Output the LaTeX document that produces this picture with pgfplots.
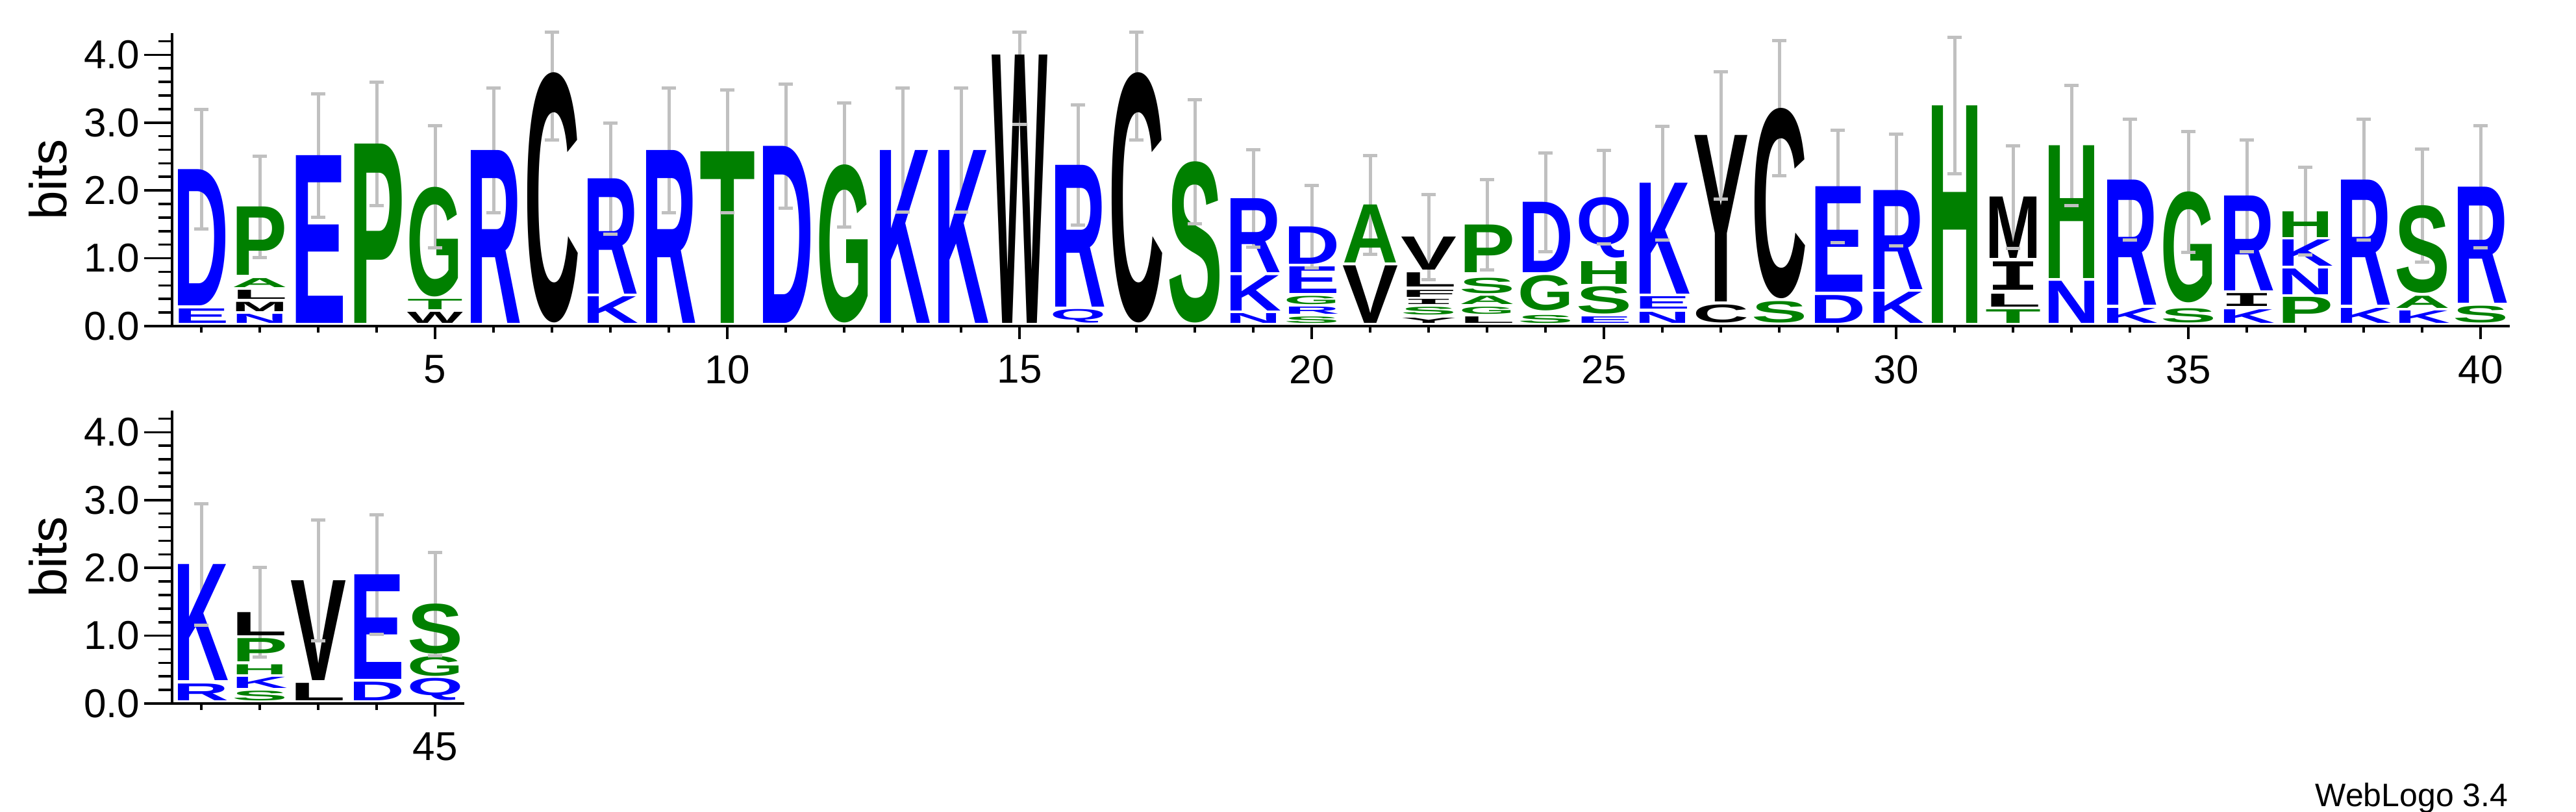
\documentclass[border=0pt]{standalone}
\usepackage{fontspec}
\setmainfont{Liberation Sans}
\newfontfamily\monofont{DejaVu Sans Mono}
\usepackage{pgfplots}
\pgfplotsset{compat=1.18}
\definecolor{lb}{RGB}{0,0,255}
\definecolor{lg}{RGB}{0,128,0}
\definecolor{lk}{RGB}{0,0,0}
\definecolor{eg}{RGB}{192,192,192}
\newlength\ybit \setlength\ybit{26.1pt}
\def\letterI{I}
\newcommand\logoletter[3]{%
  \edef\tmpL{#1}%
  \ifx\tmpL\letterI
    \textcolor{#3}{\resizebox*{21.5pt}{#2\ybit}{\monofont\bfseries I}}%
  \else
    \textcolor{#3}{\resizebox*{21.5pt}{#2\ybit}{\bfseries #1}}%
  \fi}
\pgfplotsset{
  logo/.style={
    x=22.5pt, y=26.1pt, ymin=0, ymax=4.32,
    clip=false,
    axis x line*=bottom, axis y line*=left,
    axis line style={line width=0.9pt, black},
    tick style={line width=0.9pt, black},
    tick align=outside,
    major tick length=10.75pt, minor tick length=5.25pt,
    xtick style={/pgfplots/major tick length=5pt, /pgfplots/minor tick length=2.5pt},
    /pgf/number format/assume math mode=true,
    ytick={0,1,2,3,4},
    minor ytick={0.2,0.4,0.6,0.8,1.2,1.4,1.6,1.8,2.2,2.4,2.6,2.8,3.2,3.4,3.6,3.8,4.2},
    yticklabel style={/pgf/number format/fixed, /pgf/number format/fixed zerofill, /pgf/number format/precision=1, font=\fontsize{15.5pt}{15.5pt}\selectfont, anchor=east, inner sep=0pt, xshift=-1.5pt},
    xticklabel style={font=\fontsize{15.5pt}{15.5pt}\selectfont, anchor=north, inner sep=0pt, yshift=-0.25pt},
    ylabel={bits},
  },
  letters/.style={
    only marks, mark=none, forget plot, point meta=y,
    visualization depends on={value \thisrow{h}\as\myH},
    visualization depends on={value \thisrow{L}\as\myL},
    visualization depends on={value \thisrow{c}\as\myC},
    nodes near coords={\logoletter{\myL}{\myH}{\myC}},
    every node near coord/.append style={anchor=south, inner sep=0pt, outer sep=0pt},
  },
  errs/.style={
    forget plot, eg, line width=1.25pt, unbounded coords=jump,
    mark=-, mark size=2.8pt, mark options={eg, line width=1.25pt, solid},
  },
}
\begin{document}
\begin{tikzpicture}
\useasboundingbox (0,0) rectangle (991.75pt,312.5pt);
\begin{axis}[logo, at={(66.25pt,187pt)}, anchor=south west,
  xmin=0.5, xmax=40.5,
  xtick={5,10,15,20,25,30,35,40},
  minor xtick={1,2,3,4,6,7,8,9,11,12,13,14,16,17,18,19,21,22,23,24,26,27,28,29,31,32,33,34,36,37,38,39},
  ylabel style={font=\fontsize{20pt}{20pt}\selectfont, at={(axis description cs:-0.0447,0.5)}, anchor=south, inner sep=0pt},
]
\addplot[letters] table[x=x, y=y] {
x y h L c
1 0.046 0.213 E lb
1 0.304 2.008 D lb
2 0.046 0.133 N lb
2 0.217 0.137 M lk
2 0.400 0.133 L lk
2 0.570 0.133 A lg
2 0.749 1.008 P lg
3 0.046 2.471 E lb
4 0.046 2.642 P lg
5 0.046 0.163 W lk
5 0.247 0.152 T lg
5 0.437 1.616 G lg
6 0.046 2.547 R lb
7 0.046 3.688 C lk
8 0.046 0.392 K lb
8 0.475 1.700 R lb
9 0.046 2.547 R lb
10 0.046 2.528 T lg
11 0.046 2.608 D lb
12 0.046 2.330 G lg
13 0.046 2.547 K lb
14 0.046 2.547 K lb
15 0.046 3.954 W lk
16 0.046 0.200 Q lb
16 0.285 2.090 R lb
17 0.046 3.688 C lk
18 0.046 2.376 S lg
19 0.046 0.144 N lb
19 0.228 0.521 K lb
19 0.791 1.091 R lb
20 0.046 0.095 S lg
20 0.179 0.106 R lb
20 0.323 0.122 G lg
20 0.483 0.392 E lb
20 0.913 0.551 D lb
21 0.046 0.848 V lk
21 0.932 0.855 A lg
22 0.046 0.076 Y lk
22 0.163 0.114 S lg
22 0.316 0.076 I lk
22 0.430 0.103 F lk
22 0.578 0.209 L lk
22 0.825 0.487 V lk
23 0.046 0.095 L lk
23 0.179 0.106 G lg
23 0.323 0.122 A lg
23 0.483 0.228 S lg
23 0.787 0.703 P lg
24 0.046 0.118 S lg
24 0.228 0.521 G lg
24 0.787 1.038 D lb
25 0.046 0.095 E lb
25 0.179 0.403 S lg
25 0.616 0.335 H lg
25 1.008 0.893 Q lb
26 0.046 0.163 N lb
26 0.255 0.182 E lb
26 0.475 1.635 K lb
27 0.046 0.266 C lk
27 0.361 2.453 Y lk
28 0.046 0.316 S lg
28 0.407 2.806 C lk
29 0.046 0.410 D lb
29 0.506 1.555 E lb
30 0.046 0.460 K lb
30 0.544 1.460 R lb
31 0.046 3.205 H lg
32 0.046 0.200 T lg
32 0.285 0.190 L lk
32 0.532 0.418 I lk
32 0.996 0.905 M lk
33 0.046 0.620 N lb
33 0.703 1.958 H lg
34 0.046 0.220 K lb
34 0.312 1.844 R lb
35 0.046 0.209 S lg
35 0.342 1.635 G lg
36 0.046 0.200 K lb
36 0.293 0.190 I lk
36 0.521 1.399 R lb
37 0.046 0.384 P lg
37 0.468 0.380 N lb
37 0.886 0.388 K lb
37 1.312 0.380 H lg
38 0.046 0.220 K lb
38 0.312 1.844 R lb
39 0.046 0.183 K lb
39 0.266 0.179 A lg
39 0.483 1.293 S lg
40 0.046 0.247 S lg
40 0.342 1.711 R lb
};
\addplot[errs] table[x=x, y=y] {
x y
1 1.428
1 3.196
1 nan
2 1.007
2 2.507
2 nan
3 1.607
3 3.427
3 nan
4 1.778
4 3.598
4 nan
5 1.150
5 2.956
5 nan
6 1.676
6 3.510
6 nan
7 2.744
7 4.335
7 nan
8 1.355
8 2.995
8 nan
9 1.676
9 3.510
9 nan
10 1.667
10 3.481
10 nan
11 1.741
11 3.567
11 nan
12 1.463
12 3.289
12 nan
13 1.680
13 3.506
13 nan
14 1.680
14 3.506
14 nan
15 2.973
15 4.335
15 nan
16 1.491
16 3.259
16 nan
17 2.744
17 4.335
17 nan
18 1.509
18 3.335
18 nan
19 1.159
19 2.605
19 nan
20 0.854
20 2.074
20 nan
21 1.061
21 2.513
21 nan
22 0.682
22 1.942
22 nan
23 0.825
23 2.155
23 nan
24 1.097
24 2.553
24 nan
25 1.207
25 2.595
25 nan
26 1.273
26 2.947
26 nan
27 1.877
27 3.751
27 nan
28 2.219
28 4.207
28 nan
29 1.234
29 2.888
29 nan
30 1.181
30 2.827
30 nan
31 2.243
31 4.259
31 nan
32 1.146
32 2.656
32 nan
33 1.777
33 3.545
33 nan
34 1.266
34 3.046
34 nan
35 1.083
35 2.871
35 nan
36 1.099
36 2.741
36 nan
37 1.046
37 2.338
37 nan
38 1.266
38 3.046
38 nan
39 0.939
39 2.613
39 nan
40 1.153
40 2.953
};
\end{axis}
\begin{axis}[logo, at={(66.25pt,41.75pt)}, anchor=south west,
  xmin=40.5, xmax=45.5,
  xtick={45},
  minor xtick={41,42,43,44},
  ylabel style={font=\fontsize{20pt}{20pt}\selectfont, at={(axis description cs:-0.3578,0.5)}, anchor=south, inner sep=0pt},
]
\addplot[letters] table[x=x, y=y] {
x y h L c
41 0.045 0.247 R lb
41 0.336 1.712 K lb
42 0.045 0.144 S lg
42 0.223 0.164 K lb
42 0.428 0.147 H lg
42 0.620 0.342 P lg
42 1.003 0.342 L lk
43 0.045 0.257 L lk
43 0.342 1.473 V lk
44 0.045 0.274 D lb
44 0.360 1.541 E lb
45 0.045 0.325 Q lb
45 0.404 0.291 G lg
45 0.729 0.737 S lg
};
\addplot[errs] table[x=x, y=y] {
x y
41 1.154
41 2.942
41 nan
42 0.684
42 2.006
42 nan
43 0.925
43 2.705
43 nan
44 1.016
44 2.786
44 nan
45 0.708
45 2.224
};
\end{axis}
\node[anchor=base east, inner sep=0pt, font=\fontsize{12.5pt}{12.5pt}\selectfont] at (965.75pt,2pt) {WebLogo 3.4};
\end{tikzpicture}
\end{document}
